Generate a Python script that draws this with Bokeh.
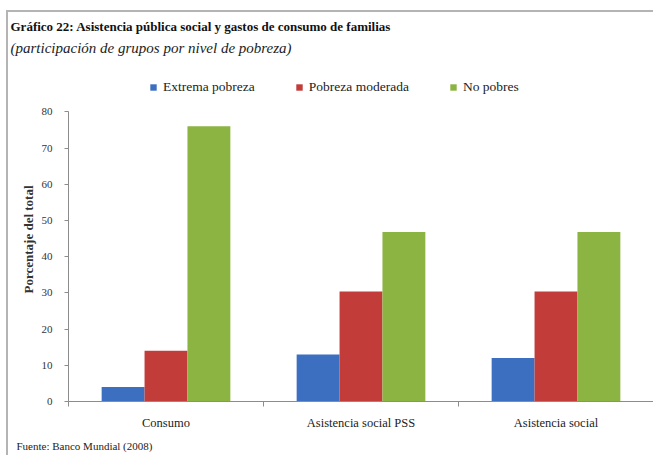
from bokeh.plotting import figure
from bokeh.models import (ColumnDataSource, Range1d, FixedTicker, Legend, LegendItem, Title)
from bokeh.embed import file_html
from bokeh.resources import INLINE

categories = ["Consumo", "Asistencia social PSS", "Asistencia social"]
series_names = ["Extrema pobreza", "Pobreza moderada", "No pobres"]
extrema = [4, 13, 12]
moderada = [14, 30.4, 30.4]
no_pobres = [76, 46.8, 46.8]
colors = ["#3d6fc0", "#c23d39", "#8cb443"]
y_ticks = [0, 10, 20, 30, 40, 50, 60, 70, 80]

FONT = "Liberation Serif"

p = figure(width=645, height=443, output_backend="svg", toolbar_location=None,
           x_range=Range1d(0, len(categories)), y_range=Range1d(0, 89.5),
           frame_width=585, frame_height=324,
           min_border_left=60, min_border_right=0, min_border_top=64, min_border_bottom=55)
p.margin = (10, 0, 0, 6)
p.styles = {"border-top": "2px solid #b4b4b4", "border-left": "2px solid #b4b4b4"}
p.outline_line_color = None
p.xgrid.visible = False
p.ygrid.visible = False
p.background_fill_color = "white"
p.border_fill_color = "white"

width = 0.22
offsets = [-0.22, 0.0, 0.22]
centers = [i + 0.5 for i in range(len(categories))]
renderers = []
for vals, off, col in zip([extrema, moderada, no_pobres], offsets, colors):
    src = ColumnDataSource(dict(x=[c + off for c in centers], top=vals))
    r = p.vbar(x="x", top="top", width=width, bottom=0, source=src,
               fill_color=col, line_color=None)
    renderers.append(r)

legend = Legend(items=[LegendItem(label=n, renderers=[r]) for n, r in zip(series_names, renderers)],
                orientation="horizontal", location=(81, 306),
                glyph_width=8, glyph_height=8, label_height=12, label_standoff=6,
                spacing=40, padding=0, margin=0,
                label_text_font=FONT, label_text_font_size="13.5px", label_text_color="#222222",
                border_line_color=None, background_fill_alpha=0)
p.add_layout(legend, "center")

# y axis
ya = p.yaxis[0]
ya.ticker = FixedTicker(ticks=y_ticks)
ya.bounds = (0, 80)
ya.axis_line_color = "#8c8c8c"
ya.major_tick_line_color = "#8c8c8c"
ya.major_tick_out = 4
ya.major_tick_in = 0
ya.minor_tick_line_color = None
ya.major_label_text_font = FONT
ya.major_label_text_font_size = "11px"
ya.major_label_text_color = "#333333"
ya.major_label_standoff = 12
ya.axis_label = "Porcentaje del total"
ya.axis_label_text_font = FONT
ya.axis_label_text_font_size = "13px"
ya.axis_label_text_font_style = "bold"
ya.axis_label_text_color = "#333333"
ya.axis_label_standoff = 3

# x axis
xa = p.xaxis[0]
xa.ticker = FixedTicker(ticks=centers, minor_ticks=list(range(len(categories) + 1)))
xa.major_label_overrides = {c: name for c, name in zip(centers, categories)}
xa.axis_line_color = "#8c8c8c"
xa.major_tick_line_color = None
xa.major_tick_out = 0
xa.major_tick_in = 0
xa.minor_tick_line_color = "#8c8c8c"
xa.minor_tick_out = 5
xa.minor_tick_in = 0
xa.major_label_text_font = FONT
xa.major_label_text_font_size = "12.5px"
xa.major_label_text_color = "#222222"
xa.major_label_standoff = 9

# spacer between subtitle and plot, then subtitle, then title (outward order)
p.add_layout(Title(text=" ", standoff=0, text_font=FONT, text_font_size="18px"), "above")
p.add_layout(Title(text="(participación de grupos por nivel de pobreza)", align="left",
                   offset=-58, standoff=0,
                   text_font=FONT, text_font_size="15px", text_font_style="italic",
                   text_color="#222222"), "above")
p.add_layout(Title(text="Gráfico 22: Asistencia pública social y gastos de consumo de familias",
                   align="left", offset=-58, standoff=8,
                   text_font=FONT, text_font_size="13px", text_font_style="bold",
                   text_color="#111111"), "above")
p.add_layout(Title(text="Fuente: Banco Mundial (2008)", align="left", offset=-52, standoff=10,
                   text_font=FONT, text_font_size="11px", text_font_style="normal",
                   text_color="#222222"), "below")

open("out.html", "w").write(file_html(p, INLINE))
